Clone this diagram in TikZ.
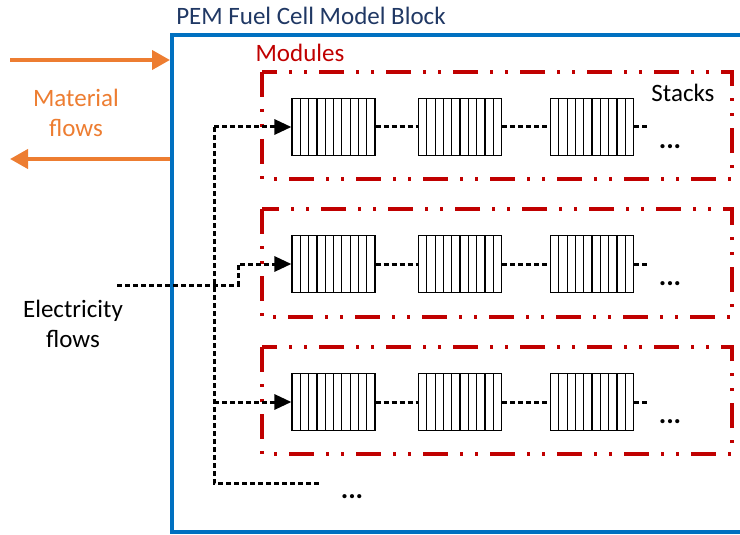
\documentclass[tikz,border=0pt]{standalone}
\usepackage{fontspec}
\setmainfont{Carlito}
\usetikzlibrary{arrows.meta}
\definecolor{blk}{HTML}{0070C0}
\definecolor{org}{HTML}{ED7D31}
\definecolor{modred}{HTML}{C00000}
\definecolor{ttl}{HTML}{203864}
\tikzset{
  stackbox/.style={draw=black, line width=1.2pt, minimum width=83pt, minimum height=57pt, inner sep=0pt,
    path picture={\foreach \i in {1,...,9}{\draw[line width=1.2pt] ([xshift=\i*8.3pt]path picture bounding box.south west) -- ([xshift=\i*8.3pt]path picture bounding box.north west);}}},
  modbox/.style={draw=modred, line width=3.5pt, dash pattern=on 25pt off 12pt on 3pt off 12pt on 3pt off 12pt},
  eflow/.style={draw=black, line width=3pt, dash pattern=on 5pt off 3pt},
  etip/.style={-{Triangle[length=17pt,width=15pt]}},
  mflow/.style={draw=org, line width=4pt, -{Triangle[length=18pt,width=19pt]}},
  lbl/.style={font=\fontsize{25pt}{30pt}\selectfont, inner sep=0pt, align=center},
  dots/.style={font=\fontsize{28pt}{28pt}\selectfont\bfseries, inner sep=0pt}
}
\begin{document}
\begin{tikzpicture}[x=1pt,y=-1pt]
\useasboundingbox (0,0) rectangle (740,535);
% blue block
\draw[blk, line width=4pt] (745,35) -- (172,35) -- (172,532) -- (745,532);
\node[lbl, text=ttl] (title) at (311,16) {PEM Fuel Cell Model Block};
\node[lbl, text=modred] (modlbl) at (300,53) {Modules};
% module boxes
\draw[modbox] (262,72) rectangle (732,179);
\draw[modbox] (262,209) rectangle (732,317);
\draw[modbox] (262,347) rectangle (732,454);
\node[lbl] (stlbl) at (683,93) {Stacks};
% stacks
\foreach \r/\y in {1/127,2/264,3/402}{
  \node[stackbox] (s\r1) at (333.5,\y) {};
  \node[stackbox] (s\r2) at (460,\y) {};
  \node[stackbox] (s\r3) at (592,\y) {};
  \coordinate (t\r) at (648,\y);
  \draw[eflow] (s\r1.east) -- (s\r2.west);
  \draw[eflow] (s\r2.east) -- (s\r3.west);
  \draw[eflow] (s\r3.east) -- (t\r);
}
\node[dots] (d1) at (670,147) {...};
\node[dots] (d2) at (670,284) {...};
\node[dots] (d3) at (670,422) {...};
% material flows
\coordinate (min0) at (10,60);
\coordinate (min1) at (170,60);
\coordinate (mout0) at (170,159);
\coordinate (mout1) at (10,159);
\draw[mflow] (min0) -- (min1);
\draw[mflow] (mout0) -- (mout1);
\node[lbl, text=org] (mat) at (76,113) {Material\\flows};
% electricity
\node[lbl] (ele) at (73,324) {Electricity\\flows};
\coordinate (e0) at (117,285);
\coordinate (e1) at (238,285);
\coordinate (e2) at (238,264);
\draw[eflow, etip] (e0) -- (e1) -- (e2) -- (s21.west);
\coordinate (v0) at (214,127);
\coordinate (v1) at (214,483);
\coordinate (v2) at (320,483);
\coordinate (v3) at (214,402);
\draw[eflow] (v0) -- (v1) -- (v2);
\draw[eflow, etip] (v0) -- (s11.west);
\draw[eflow, etip] (v3) -- (s31.west);
\node[dots] (d4) at (352,497) {...};
\end{tikzpicture}
\end{document}
